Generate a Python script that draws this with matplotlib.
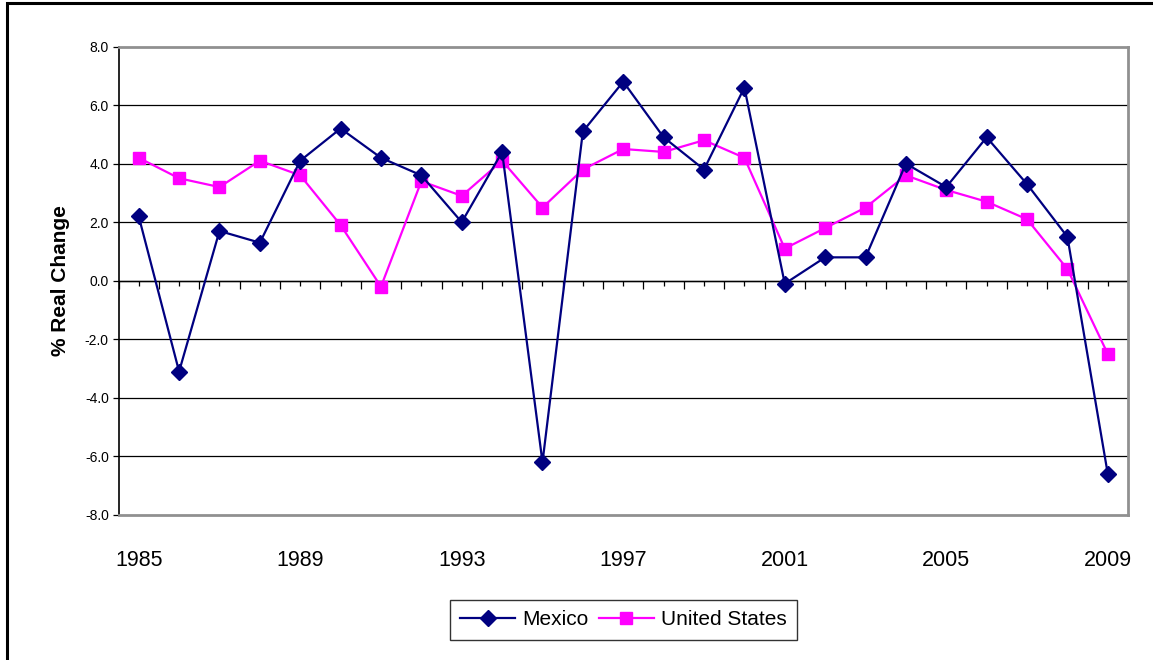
import matplotlib.pyplot as plt
import numpy as np
from matplotlib.patches import Rectangle

plt.rcParams['font.family'] = ['Liberation Sans', 'DejaVu Sans']

years = np.arange(1985, 2010)
mexico = [2.2, -3.1, 1.7, 1.3, 4.1, 5.2, 4.2, 3.6, 2.0, 4.4, -6.2, 5.1, 6.8,
          4.9, 3.8, 6.6, -0.1, 0.8, 0.8, 4.0, 3.2, 4.9, 3.3, 1.5, -6.6]
united_states = [4.2, 3.5, 3.2, 4.1, 3.6, 1.9, -0.2, 3.4, 2.9, 4.1, 2.5, 3.8, 4.5,
                 4.4, 4.8, 4.2, 1.1, 1.8, 2.5, 3.6, 3.1, 2.7, 2.1, 0.4, -2.5]
label_years = [1985, 1989, 1993, 1997, 2001, 2005, 2009]
y_ticks = np.arange(-8, 9, 2)

fig = plt.figure(figsize=(11.53, 6.6), dpi=100)
ax = fig.add_axes([0.1028, 0.2197, 0.8755, 0.7098])

# outer chart border (only top and left show in the picture)
fig.patches.append(Rectangle((0.0057, -0.05), 1.1, 1.046, transform=fig.transFigure,
                             fill=False, edgecolor='black', linewidth=2.2))

for y in y_ticks[1:-1]:
    ax.axhline(y, color='black', linewidth=0.9, zorder=1)
ax.axhline(0, color='black', linewidth=1.0, zorder=2)

# category axis ticks along the zero line
ax.vlines(np.arange(1984.5, 2010, 1.0), -0.27, 0, color='black', linewidth=0.9, zorder=2)
ax.vlines(years, -0.17, 0, color='black', linewidth=0.9, zorder=2)

ax.plot(years, mexico, color='#000080', linewidth=1.6, marker='D', markersize=8.5,
        label='Mexico', zorder=4)
ax.plot(years, united_states, color='#FF00FF', linewidth=1.6, marker='s', markersize=8.5,
        label='United States', zorder=3)

ax.set_xlim(1984.5, 2009.5)
ax.set_ylim(-8, 8)
ax.set_yticks(y_ticks)
ax.set_yticklabels([f'{v:.1f}' for v in y_ticks], fontsize=10)
ax.tick_params(axis='y', direction='out', length=4, width=0.9, pad=3, colors='black')
ax.set_xticks(label_years)
ax.set_xticklabels([str(y) for y in label_years], fontsize=15.5)
ax.tick_params(axis='x', length=0, pad=25)

ax.set_ylabel('% Real Change', fontsize=15, fontweight='bold', labelpad=11)

for side in ['top', 'right', 'bottom']:
    ax.spines[side].set_color('#909090')
    ax.spines[side].set_linewidth(2)
ax.spines['left'].set_color('black')
ax.spines['left'].set_linewidth(1.2)

leg = ax.legend(loc='upper center', bbox_to_anchor=(0.5, -0.181), ncol=2, fontsize=15,
                frameon=True, fancybox=False, edgecolor='black', handlelength=2.65,
                handletextpad=0.33, columnspacing=0.5, borderpad=0.5, borderaxespad=0)
leg.get_frame().set_linewidth(1.0)

fig.savefig('out.png', dpi=100)
